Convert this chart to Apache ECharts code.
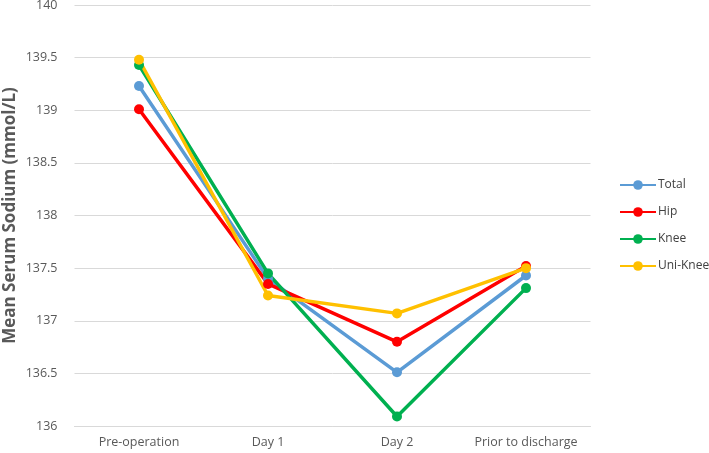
<!DOCTYPE html>
<html><head><meta charset="utf-8">
<script src="https://cdn.jsdelivr.net/npm/echarts@6/dist/echarts.min.js"></script>
<style>html,body{margin:0;padding:0;background:#fff}#c{width:709px;height:453px}</style>
</head><body><div id="c"></div>
<script>
const categories = ['Pre-operation', 'Day 1', 'Day 2', 'Prior to discharge'];
const total = [139.23, 137.40, 136.51, 137.43];
const hip = [139.01, 137.35, 136.80, 137.52];
const knee = [139.43, 137.45, 136.09, 137.31];
const uniKnee = [139.48, 137.24, 137.07, 137.50];
const yTicks = { min: 136, max: 140, interval: 0.5 };

const font = '"Open Sans", "Liberation Sans", sans-serif';
const chart = echarts.init(document.getElementById('c'));
function s(name, data, color) {
  return { name, type: 'line', data, color, symbol: 'circle', symbolSize: 10,
    lineStyle: { width: 3.5, color }, itemStyle: { color }, emphasis: { disabled: true } };
}
chart.setOption({
  animation: false,
  grid: { left: 74.5, right: 118.5, top: 5, bottom: 27, containLabel: false, outerBoundsMode: 'none' },
  legend: {
    orient: 'vertical', left: 614, top: 174, itemGap: 15,
    itemWidth: 36, itemHeight: 12,
    textStyle: { fontFamily: font, fontSize: 12, color: '#404040', padding: [0, 0, 0, -3] },
    data: ['Total', 'Hip', 'Knee', 'Uni-Knee']
  },
  xAxis: {
    type: 'category', data: categories, boundaryGap: true,
    axisLine: { lineStyle: { color: '#d9d9d9' } }, axisTick: { show: false },
    axisLabel: { interval: 0, fontFamily: font, fontSize: 12.5, color: '#595959', margin: 10 }
  },
  yAxis: {
    type: 'value', min: yTicks.min, max: yTicks.max, interval: yTicks.interval,
    name: 'Mean Serum Sodium (mmol/L)', nameLocation: 'middle', nameGap: 56, nameMoveOverlap: false,
    nameTextStyle: { fontFamily: font, fontSize: 17, fontWeight: 'bold', color: '#595959' },
    axisLine: { show: false }, axisTick: { show: false },
    splitLine: { lineStyle: { color: '#d9d9d9', width: 1 } },
    axisLabel: { fontFamily: font, fontSize: 12.5, color: '#595959', margin: 17 }
  },
  series: [
    s('Total', total, '#5B9BD5'),
    s('Hip', hip, '#FF0000'),
    s('Knee', knee, '#00B050'),
    s('Uni-Knee', uniKnee, '#FFC000')
  ]
});
</script></body></html>
